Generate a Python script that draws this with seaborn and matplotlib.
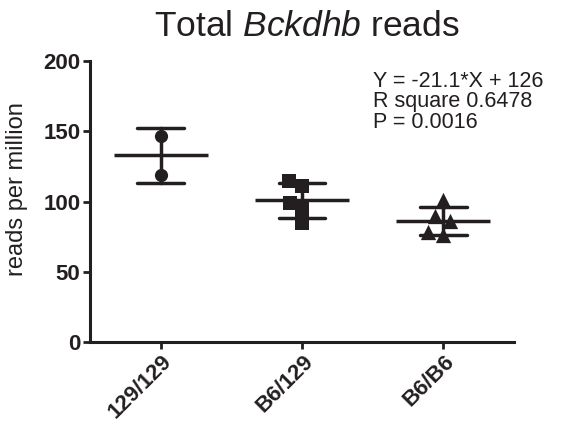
import matplotlib
matplotlib.use("Agg")
import matplotlib.pyplot as plt
import matplotlib.transforms as mtransforms
import pandas as pd
import seaborn as sns

groups = ["129/129", "B6/129", "B6/B6"]
vals_129 = [146.6, 118.9]
vals_b6_129 = [114.6, 111.0, 98.7, 94.4, 84.9]
vals_b6 = [101.0, 89.7, 86.0, 78.5, 76.0]
markers = ["o", "s", "^"]
fit_lines = ["Y = -21.1*X + 126", "R square 0.6478", "P = 0.0016"]
yticks = [0, 50, 100, 150, 200]

sns.set_style("ticks")
plt.rcParams["font.family"] = ["Liberation Sans", "DejaVu Sans"]
plt.rcParams["mathtext.fontset"] = "custom"
plt.rcParams["mathtext.rm"] = "Liberation Sans"
plt.rcParams["mathtext.it"] = "Liberation Sans:italic"

df = pd.DataFrame({
    "group": [groups[0]] * len(vals_129) + [groups[1]] * len(vals_b6_129) + [groups[2]] * len(vals_b6),
    "value": vals_129 + vals_b6_129 + vals_b6,
})

ink = "#231f20"
fig = plt.figure(figsize=(5.64, 4.25), dpi=100)
ax = fig.add_axes([90 / 564, 83 / 425, 424 / 564, 281 / 425])

# mean +/- SD
sns.pointplot(data=df, x="group", y="value", order=groups, errorbar="sd",
              capsize=0.33, color=ink, marker="_", linestyle="none",
              markersize=67, markeredgewidth=2.5, err_kws={"linewidth": 2.5}, ax=ax)

# individual points, one marker per genotype
for g, m in zip(groups, markers):
    sz = 11 if m == "^" else 9.5
    sns.swarmplot(data=df[df["group"] == g], x="group", y="value", order=groups,
                  marker=m, color=ink, size=sz, linewidth=0, ax=ax, zorder=3)

ax.set_xlim(-0.5, 2.5)
ax.set_ylim(0, 200)
ax.set_yticks(yticks)
ax.set_xlabel("")
ax.set_ylabel("reads per million", fontsize=17, color=ink)
ax.yaxis.set_label_coords(-0.146, 0.544)
sns.despine(ax=ax)
for s in ["left", "bottom"]:
    ax.spines[s].set_linewidth(2.2)
    ax.spines[s].set_color(ink)
ax.tick_params(axis="both", length=5, width=2, color=ink, labelcolor=ink, labelsize=16)
ax.tick_params(axis="y", pad=2)
ax.tick_params(axis="x", pad=7)
for lab in ax.get_yticklabels():
    lab.set_fontweight("bold")
offset = mtransforms.ScaledTranslation(6 / 72, 0, fig.dpi_scale_trans)
for lab in ax.get_xticklabels():
    lab.set_fontweight("bold")
    lab.set_rotation(45)
    lab.set_ha("right")
    lab.set_va("center")
    lab.set_rotation_mode("anchor")
    lab.set_transform(lab.get_transform() + offset)

fig.text(307 / 564, 1 - 36 / 425, r"Total $\mathit{Bckdhb}$ reads", fontsize=25.5,
         ha="center", va="baseline", color=ink)
for i, line in enumerate(fit_lines):
    fig.text(373 / 564, 1 - (87 + 20.5 * i) / 425, line, fontsize=15.5,
             ha="left", va="baseline", color=ink)

fig.savefig("out.png", dpi=100)
